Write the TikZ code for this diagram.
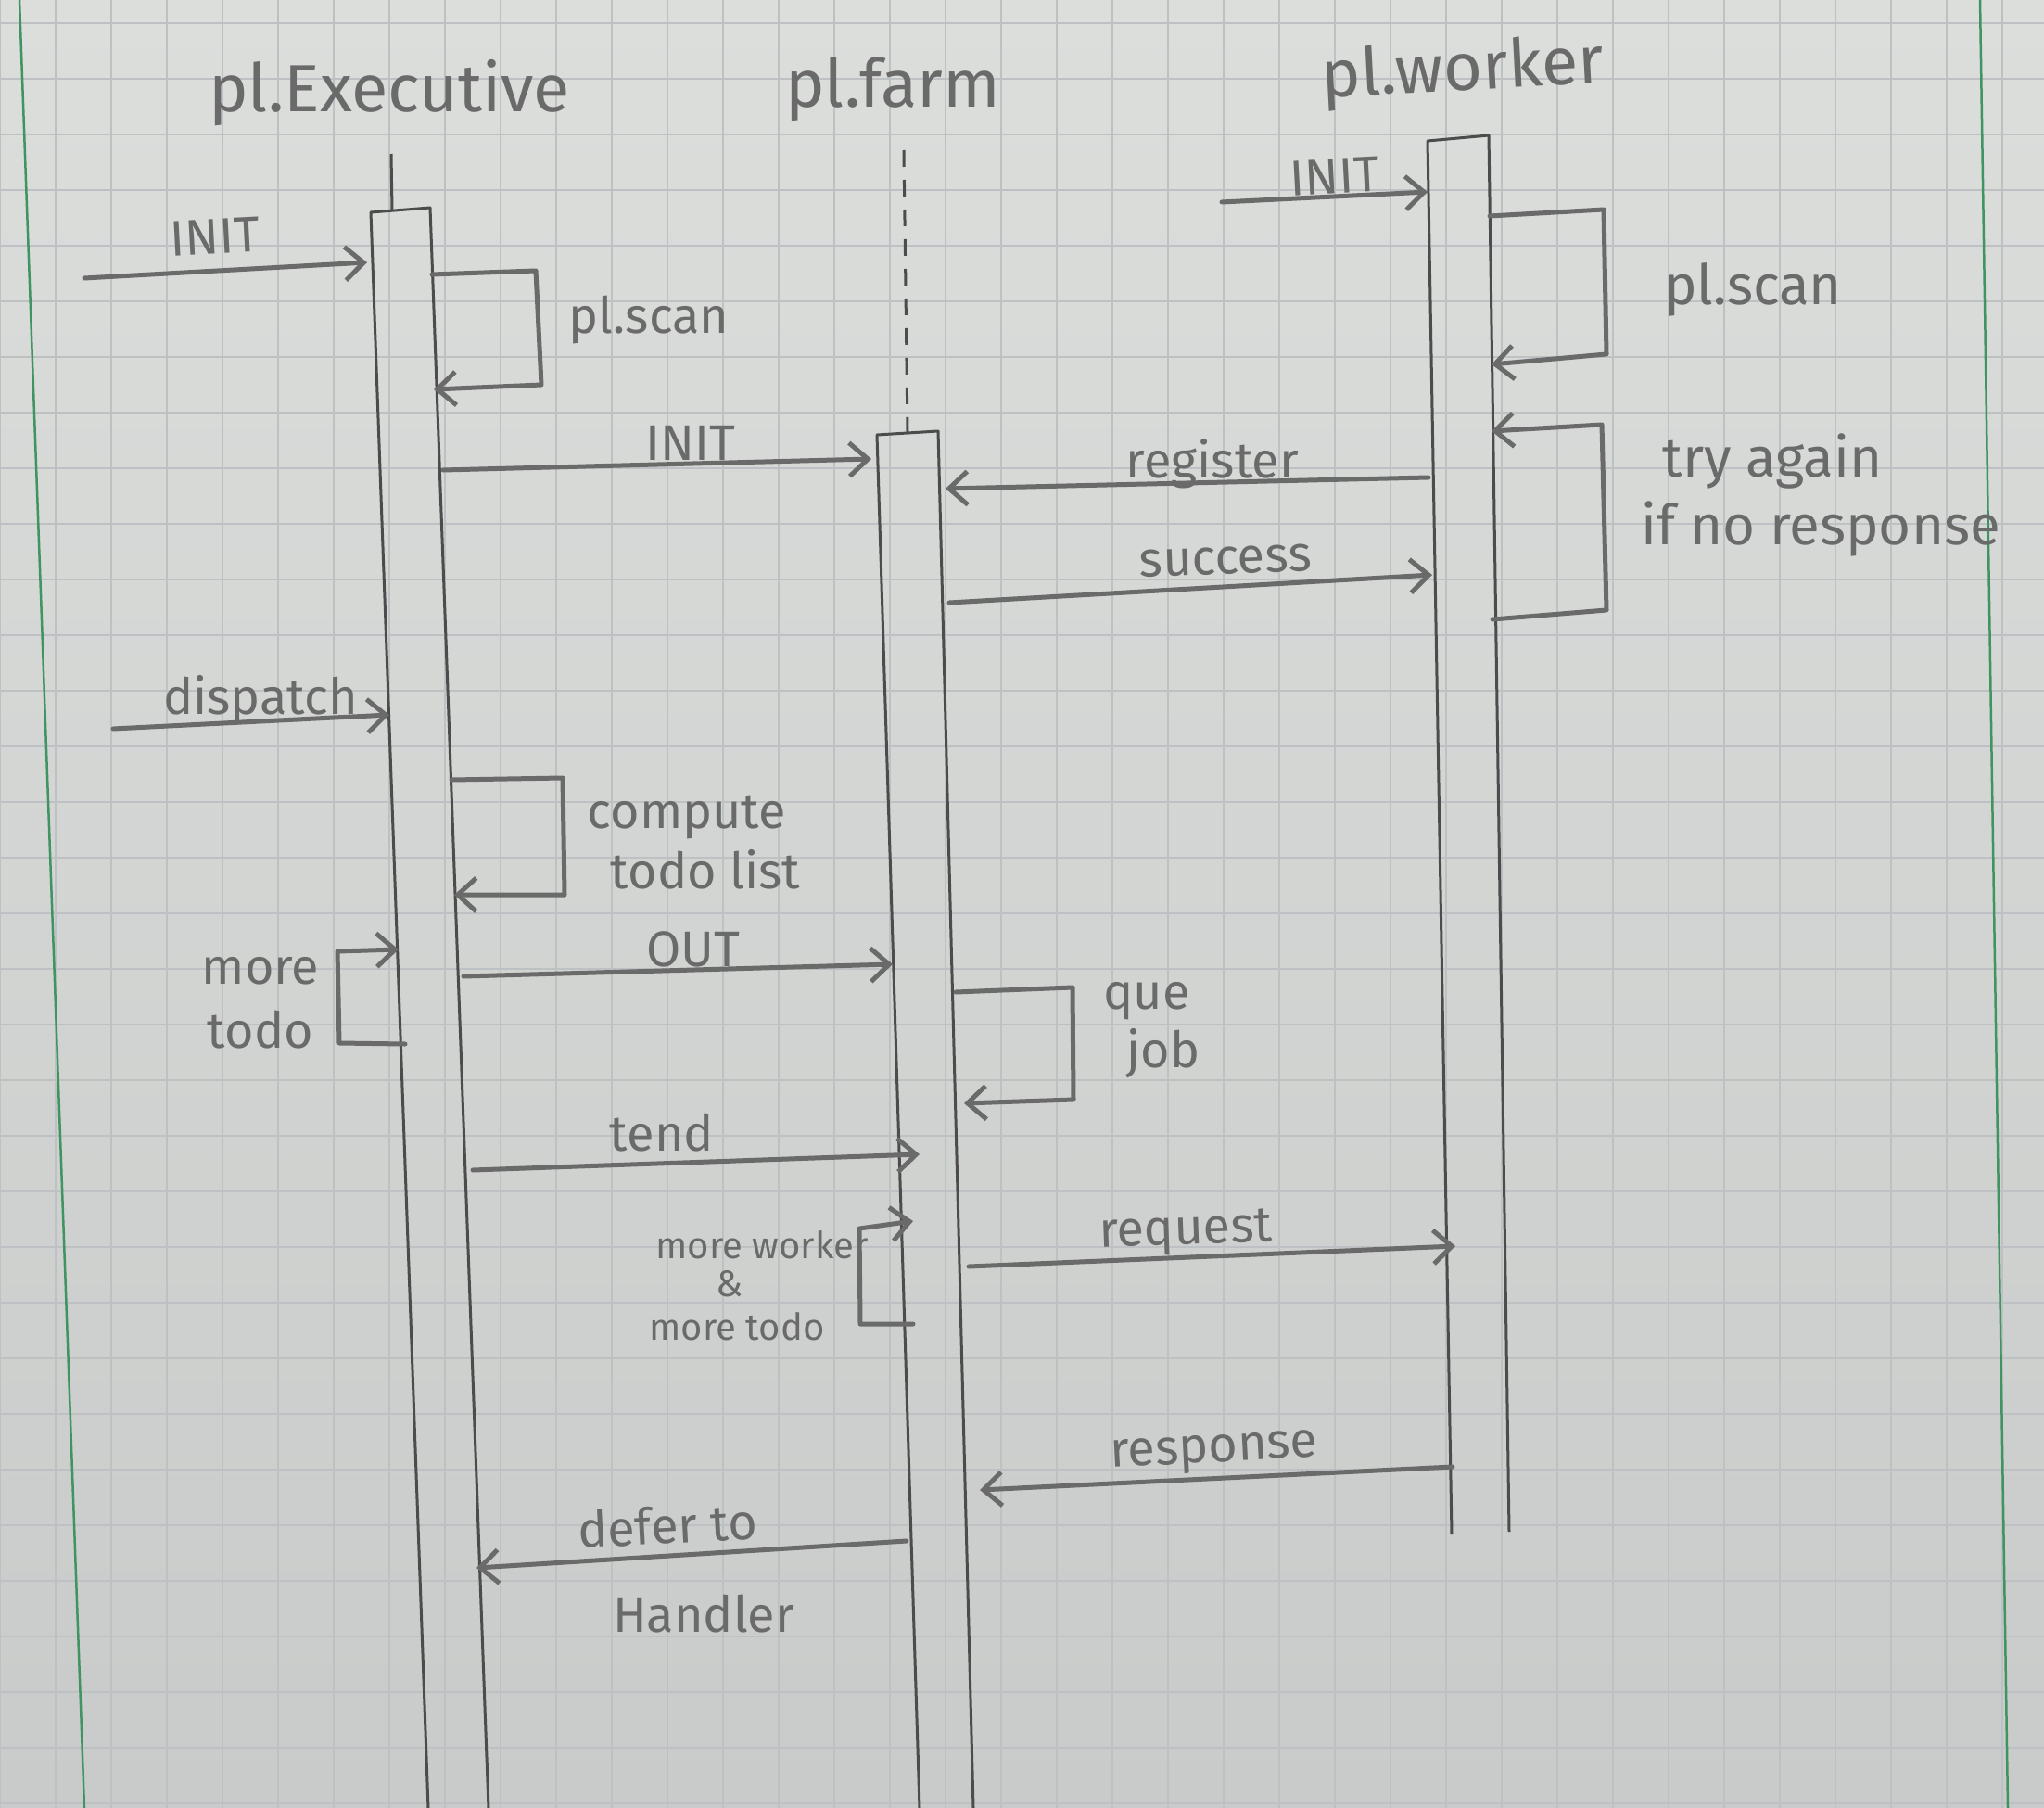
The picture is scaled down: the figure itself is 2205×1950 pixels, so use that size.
\documentclass[tikz,border=0pt]{standalone}
\usepackage{fontspec}
\setmainfont{Fira Sans}
\usetikzlibrary{arrows.meta}

\definecolor{papertop}{HTML}{DCDEDC}
\definecolor{paperbot}{HTML}{C9CBCA}
\definecolor{gridline}{HTML}{BDC1C3}
\definecolor{margin}{HTML}{3F9462}
\definecolor{pencil}{HTML}{6A6A6A}
\definecolor{pen}{HTML}{4C4C4C}

\tikzset{
  bar/.style={draw=pen, line width=3pt, line join=round},
  life/.style={draw=pen, line width=3pt},
  dashedlife/.style={draw=pen, line width=3pt, dash pattern=on 18pt off 14pt},
  msg/.style={draw=pencil, line width=5pt, line cap=round, line join=round,
    -{Straight Barb[length=20pt,width=36pt]}},
  lbl/.style={text=pencil, inner sep=0pt, font=\fontsize{54}{58}\selectfont},
  biglbl/.style={text=pencil, inner sep=0pt, font=\fontsize{60}{64}\selectfont},
  smalllbl/.style={text=pencil, inner sep=0pt, font=\fontsize{40}{44}\selectfont},
  title/.style={text=pencil, inner sep=0pt, font=\fontsize{72}{76}\selectfont},
}

\begin{document}
\begin{tikzpicture}[x=1pt,y=-1pt]
  % squared paper
  \useasboundingbox (0,0) rectangle (2205,1950);
  \shade[top color=papertop, bottom color=paperbot] (0,0) rectangle (2205,1950);
  \foreach \gx in {0,60,...,2205} \draw[gridline, line width=2pt] (\gx,0) -- (\gx,1950);
  \foreach \gy in {25,85,...,1950} \draw[gridline, line width=2pt] (0,\gy) -- (2205,\gy);
  \draw[margin, line width=2.5pt] (21,0) -- (91,1950);
  \draw[margin, line width=2.5pt] (2136,0) -- (2166,1950);

  % lifeline titles
  \node[title] (tExec) at (420,100) {pl.Executive};
  \node[title] (tFarm) at (963,96) {pl.farm};
  \node[title, rotate=3] (tWork) at (1578,78) {pl.worker};

  % lifelines and activation bars
  \coordinate (ExS) at (422,166);   \coordinate (ExSb) at (423,227);
  \coordinate (ExTL) at (400,229);  \coordinate (ExTR) at (464,224);
  \coordinate (ExBL) at (462,1950); \coordinate (ExBR) at (527,1950);
  \draw[life] (ExS) -- (ExSb);
  \draw[bar] (ExBL) -- (ExTL) -- (ExTR) -- (ExBR);

  \coordinate (FaD) at (975,162);   \coordinate (FaDb) at (979,466);
  \coordinate (FaTL) at (946,469);  \coordinate (FaTR) at (1012,465);
  \coordinate (FaBL) at (992,1950); \coordinate (FaBR) at (1050,1950);
  \draw[dashedlife] (FaD) -- (FaDb);
  \draw[bar] (FaBL) -- (FaTL) -- (FaTR) -- (FaBR);

  \coordinate (WoTL) at (1540,152); \coordinate (WoTR) at (1606,146);
  \coordinate (WoBL) at (1566,1655); \coordinate (WoBR) at (1628,1652);
  \draw[bar] (WoBL) -- (WoTL) -- (WoTR) -- (WoBR);

  % INIT into pl.Executive
  \coordinate (i1s) at (91,300);  \coordinate (i1e) at (396,283);
  \draw[msg] (i1s) -- (i1e);
  \node[lbl, rotate=3] (lInitA) at (232,255) {INIT};

  % pl.scan on pl.Executive
  \coordinate (s1a) at (466,296); \coordinate (s1b) at (578,292);
  \coordinate (s1c) at (584,415); \coordinate (s1d) at (468,420);
  \draw[msg] (s1a) -- (s1b) -- (s1c) -- (s1d);
  \node[lbl] (lScanA) at (700,345) {pl.scan};

  % INIT into pl.farm
  \coordinate (i2s) at (478,507); \coordinate (i2e) at (940,495);
  \draw[msg] (i2s) -- (i2e);
  \node[lbl] (lInitB) at (745,478) {INIT};

  % INIT into pl.worker
  \coordinate (i3s) at (1318,218); \coordinate (i3e) at (1540,207);
  \draw[msg] (i3s) -- (i3e);
  \node[lbl, rotate=3] (lInitC) at (1440,190) {INIT};

  % pl.scan on pl.worker
  \coordinate (s2a) at (1607,233); \coordinate (s2b) at (1730,226);
  \coordinate (s2c) at (1733,382); \coordinate (s2d) at (1609,393);
  \draw[msg] (s2a) -- (s2b) -- (s2c) -- (s2d);
  \node[biglbl] (lScanB) at (1891,312) {pl.scan};

  % try again loop on pl.worker
  \coordinate (t1a) at (1610,668); \coordinate (t1b) at (1733,658);
  \coordinate (t1c) at (1728,458); \coordinate (t1d) at (1609,465);
  \draw[msg] (t1a) -- (t1b) -- (t1c) -- (t1d);
  \node[biglbl] (lTry) at (1912,497) {try again};
  \node[biglbl] (lNoResp) at (1964,570) {if no response};

  % register / success
  \coordinate (r1s) at (1541,515); \coordinate (r1e) at (1020,527);
  \draw[msg] (r1s) -- (r1e);
  \node[lbl] (lReg) at (1308,500) {register};
  \coordinate (c1s) at (1024,650); \coordinate (c1e) at (1545,620);
  \draw[msg] (c1s) -- (c1e);
  \node[lbl, rotate=2] (lSucc) at (1322,605) {success};

  % dispatch
  \coordinate (d1s) at (122,786); \coordinate (d1e) at (420,771);
  \draw[msg] (d1s) -- (d1e);
  \node[lbl] (lDisp) at (281,755) {dispatch};

  % compute todo list
  \coordinate (k1a) at (487,841); \coordinate (k1b) at (607,839);
  \coordinate (k1c) at (609,965); \coordinate (k1d) at (490,965);
  \draw[msg] (k1a) -- (k1b) -- (k1c) -- (k1d);
  \node[lbl] (lComp) at (741,882) {compute};
  \node[lbl] (lTodoL) at (761,938) {todo list};

  % more todo loop on the left of pl.Executive
  \coordinate (m1a) at (437,1126); \coordinate (m1b) at (366,1125);
  \coordinate (m1c) at (364,1026); \coordinate (m1d) at (430,1024);
  \draw[msg] (m1a) -- (m1b) -- (m1c) -- (m1d);
  \node[lbl] (lMore) at (281,1047) {more};
  \node[lbl] (lTodo) at (281,1111) {todo};

  % OUT
  \coordinate (o1s) at (500,1053); \coordinate (o1e) at (963,1040);
  \draw[msg] (o1s) -- (o1e);
  \node[lbl] (lOut) at (748,1024) {OUT};

  % que job on pl.farm
  \coordinate (q1a) at (1031,1070); \coordinate (q1b) at (1157,1065);
  \coordinate (q1c) at (1158,1186); \coordinate (q1d) at (1040,1190);
  \draw[msg] (q1a) -- (q1b) -- (q1c) -- (q1d);
  \node[lbl] (lQue) at (1237,1080) {que};
  \node[lbl] (lJob) at (1255,1136) {job};

  % tend
  \coordinate (e1s) at (510,1262); \coordinate (e1e) at (992,1245);
  \draw[msg] (e1s) -- (e1e);
  \node[lbl] (lTend) at (714,1222) {tend};

  % more worker & more todo loop on the left of pl.farm
  \coordinate (w1a) at (985,1428); \coordinate (w1b) at (928,1428);
  \coordinate (w1c) at (927,1325); \coordinate (w1d) at (985,1317);
  \draw[msg] (w1a) -- (w1b) -- (w1c) -- (w1d);
  \node[smalllbl] (lMW) at (822,1343) {more worker};
  \node[smalllbl] (lAmp) at (787,1385) {\&};
  \node[smalllbl] (lMT) at (795,1431) {more todo};

  % request / response
  \coordinate (q2s) at (1045,1366); \coordinate (q2e) at (1570,1344);
  \draw[msg] (q2s) -- (q2e);
  \node[lbl, rotate=2] (lReq) at (1279,1330) {request};
  \coordinate (p1s) at (1567,1582); \coordinate (p1e) at (1057,1607);
  \draw[msg] (p1s) -- (p1e);
  \node[lbl, rotate=3] (lResp) at (1310,1568) {response};

  % defer to Handler
  \coordinate (h1s) at (978,1662); \coordinate (h1e) at (514,1691);
  \draw[msg] (h1s) -- (h1e);
  \node[lbl, rotate=3] (lDefer) at (720,1645) {defer to};
  \node[lbl] (lHandler) at (759,1741) {Handler};
\end{tikzpicture}
\end{document}
